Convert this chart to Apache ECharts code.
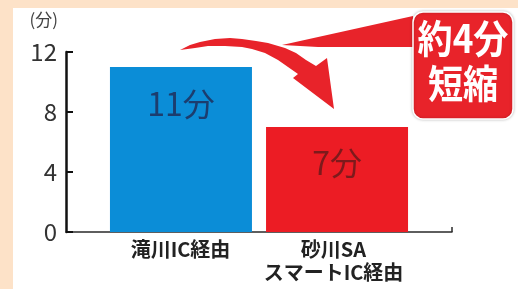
<!DOCTYPE html>
<html>
<head>
<meta charset="utf-8">
<script src="https://cdn.jsdelivr.net/npm/echarts@6/dist/echarts.min.js"></script>
<style>
  html, body { margin: 0; padding: 0; background: #fde2c8; }
  #chart { width: 518px; height: 289px; }
</style>
</head>
<body>
<div id="chart"></div>
<script>
// data
var categories = ['滝川IC経由', '砂川SA\nスマートIC経由'];
var minutes = [11, 7];
var barLabels = ['11分', '7分'];
var yMin = 0, yMax = 12, yStep = 4;
var unitName = '(分)';
var calloutText = ['約4分', '短縮'];

var W = 518, H = 289;
var gridLeft = 66, gridRight = 66, gridTop = 52, gridBottom = 57;
var font = '"Noto Sans CJK JP", "Noto Sans", sans-serif';

var chart = echarts.init(document.getElementById('chart'));

// one series per bar so the two bars can sit off-centre in their bands
var blueData = minutes.map(function(v, i) { return i === 0 ? v : '-'; });
var redData = minutes.map(function(v, i) { return i === 1 ? v : '-'; });

// outline of the decorative swoosh arrow and the wedge from the callout
var arrowPts = [
	[180, 50], [190, 45], [200, 42], [215, 39], [230, 38], [242, 39], [256, 41],
	[268, 43], [285, 48], [296, 53], [306, 60], [316, 66], [327, 58], [334, 109],
	[293, 78], [298, 74], [288, 67], [278, 60], [265, 53], [252, 49], [242, 47],
	[225, 46], [208, 46], [195, 48]
];
var wedgePts = [[282, 45], [413, 16], [414, 47], [318, 47]];

var option = {
	backgroundColor: 'transparent',
	animation: false,
	grid: {
		left: gridLeft,
		right: gridRight,
		top: gridTop,
		bottom: gridBottom
	},
	xAxis: {
		type: 'category',
		data: categories,
		axisLine: { lineStyle: { color: '#2a2a2a', width: 1.5 } },
		axisTick: { show: false },
		axisLabel: {
			interval: 0,
			hideOverlap: false,
			margin: 6,
			color: '#1e1e1e',
			fontFamily: font,
			fontSize: 20,
			lineHeight: 23,
			formatter: function(val, idx) {
				var tag = idx === 0 ? 'a' : 'b';
				return val.split('\n').map(function(s) {
					return '{' + tag + '|' + s + '}';
				}).join('\n');
			},
			rich: {
				a: { fontFamily: font, fontSize: 20, fontWeight: 'bold', lineHeight: 23, color: '#222', padding: [0, 0, 0, 36] },
				b: { fontFamily: font, fontSize: 20, fontWeight: 'bold', lineHeight: 23, color: '#222', padding: [0, 44, 0, 0] }
			}
		}
	},
	yAxis: {
		type: 'value',
		min: yMin,
		max: yMax,
		interval: yStep,
		name: unitName,
		nameLocation: 'end',
		nameGap: 24,
		nameTextStyle: {
			color: '#444',
			fontFamily: font,
			fontSize: 17,
			align: 'right',
			padding: [0, 8, 0, 0]
		},
		splitLine: { show: false },
		axisLine: { show: true, lineStyle: { color: '#111', width: 2.5 } },
		axisTick: { show: true, inside: true, length: 7, lineStyle: { color: '#111', width: 2 } },
		axisLabel: {
			margin: 9,
			color: '#333',
			fontFamily: font,
			fontSize: 24
		}
	},
	series: [{
		name: 'red',
		type: 'bar',
		data: redData,
		barWidth: 142,
		barGap: '-74%',
		itemStyle: { color: '#ec1c24' },
		label: {
			show: true,
			position: 'insideTop',
			distance: 20,
			formatter: function(p) { return barLabels[p.dataIndex]; },
			color: '#7d1a1c',
			fontFamily: font,
			fontSize: 32
		}
	}, {
		name: 'blue',
		type: 'bar',
		data: blueData,
		barWidth: 142,
		barGap: '-74%',
		itemStyle: { color: '#0b8dd7' },
		label: {
			show: true,
			position: 'insideTop',
			distance: 21,
			formatter: function(p) { return barLabels[p.dataIndex]; },
			color: '#1c3d6e',
			fontFamily: font,
			fontSize: 32
		}
	}],
	graphic: {
		elements: [{
			// white panel on the peach frame
			type: 'rect',
			z: -10,
			shape: { x: 13, y: 8, width: W - 13, height: H - 8 },
			style: { fill: '#ffffff' },
			silent: true
		}, {
			// small end tick of the x axis
			type: 'line',
			z: 5,
			shape: { x1: W - gridRight, y1: H - gridBottom, x2: W - gridRight, y2: H - gridBottom - 5 },
			style: { stroke: '#2a2a2a', lineWidth: 1.5 },
			silent: true
		}, {
			type: 'polygon',
			z: 10,
			shape: { points: wedgePts },
			style: { fill: '#e8232a' },
			silent: true
		}, {
			type: 'polygon',
			z: 10,
			shape: { points: arrowPts, smooth: 0 },
			style: { fill: '#e8232a' },
			silent: true
		}, {
			type: 'rect',
			z: 11,
			shape: { x: 413, y: 12, width: 100, height: 107, r: 10 },
			style: {
				fill: '#e8232a',
				stroke: '#ffffff',
				lineWidth: 1.5,
				shadowBlur: 3,
				shadowColor: 'rgba(0,0,0,0.25)'
			},
			silent: true
		}, {
			type: 'text',
			z: 12,
			x: 463,
			y: 61,
			scaleX: 0.9,
			style: {
				text: calloutText.join('\n'),
				fill: '#ffffff',
				font: 'bold 39px ' + font,
				lineHeight: 45,
				align: 'center',
				verticalAlign: 'middle'
			},
			silent: true
		}]
	}
};

chart.setOption(option);
window.addEventListener('resize', function() {
	chart.resize();
});
</script>
</body>
</html>
